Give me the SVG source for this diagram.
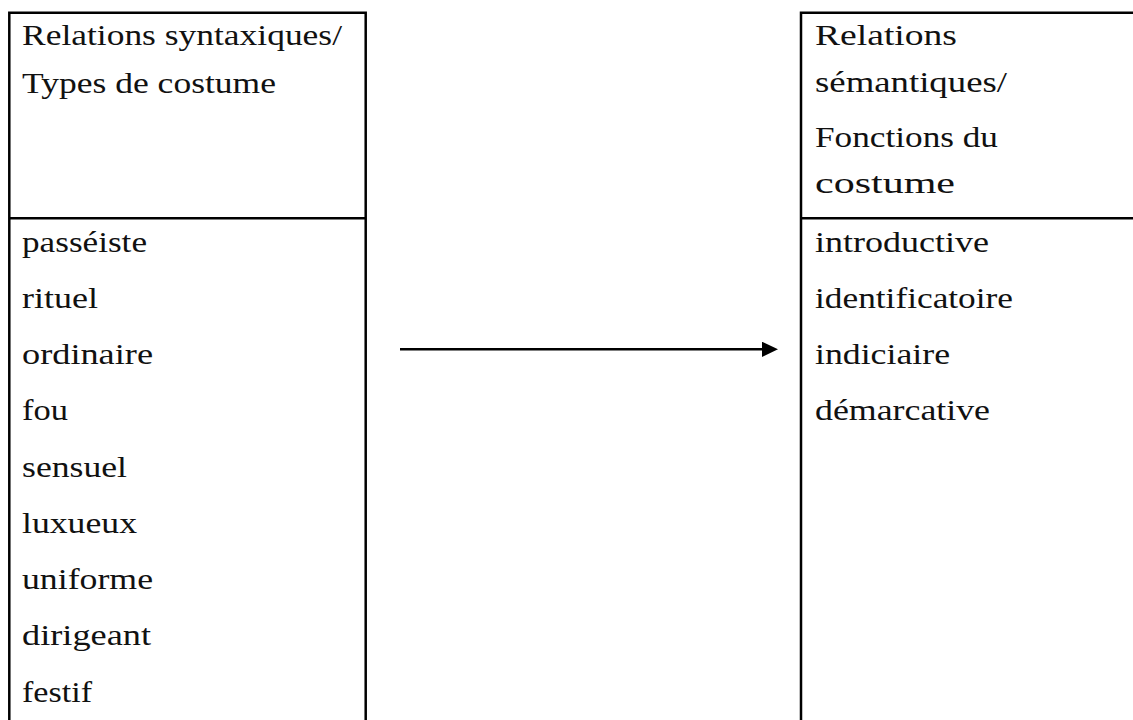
<svg xmlns="http://www.w3.org/2000/svg" width="1133" height="720" viewBox="0 0 1133 720">
<style>
  .frame { fill: none; stroke: #000; stroke-width: 2.5; }
  .t { font-family: "Liberation Serif", "Times New Roman", serif; font-size: 30px; fill: #111; }
  .conn { stroke: #000; stroke-width: 2.5; fill: none; }
</style>
<defs>
  <marker id="arrow" markerUnits="userSpaceOnUse" markerWidth="18" markerHeight="18" refX="2" refY="7.6" orient="auto">
    <path d="M0,0 L16,7.6 L0,15.2 Z" fill="#000"/>
  </marker>
</defs>
<rect width="1133" height="720" fill="#fff"/>

<g id="node-syntaxiques">
  <path class="frame" d="M9.3,722 V12.8 H365.7 V722"/>
  <line class="frame" x1="9.3" y1="218.3" x2="365.7" y2="218.3"/>
  <text class="t" x="22" y="45" textLength="320" lengthAdjust="spacingAndGlyphs">Relations syntaxiques/</text>
  <text class="t" x="22" y="93.3" textLength="254" lengthAdjust="spacingAndGlyphs">Types de costume</text>
  <text class="t" x="22" y="251.5" textLength="125" lengthAdjust="spacingAndGlyphs">passéiste</text>
  <text class="t" x="22" y="307.75" textLength="76" lengthAdjust="spacingAndGlyphs">rituel</text>
  <text class="t" x="22" y="364" textLength="131" lengthAdjust="spacingAndGlyphs">ordinaire</text>
  <text class="t" x="22" y="420.25" textLength="46" lengthAdjust="spacingAndGlyphs">fou</text>
  <text class="t" x="22" y="476.5" textLength="105" lengthAdjust="spacingAndGlyphs">sensuel</text>
  <text class="t" x="22" y="532.75" textLength="115" lengthAdjust="spacingAndGlyphs">luxueux</text>
  <text class="t" x="22" y="589" textLength="131" lengthAdjust="spacingAndGlyphs">uniforme</text>
  <text class="t" x="22" y="645.25" textLength="129" lengthAdjust="spacingAndGlyphs">dirigeant</text>
  <text class="t" x="22" y="701.5" textLength="70" lengthAdjust="spacingAndGlyphs">festif</text>
</g>

<g id="node-semantiques">
  <path class="frame" d="M801,722 V12.8 H1136"/>
  <line class="frame" x1="801" y1="218.3" x2="1136" y2="218.3"/>
  <text class="t" x="815" y="45" textLength="142" lengthAdjust="spacingAndGlyphs">Relations</text>
  <text class="t" x="815" y="92" textLength="192" lengthAdjust="spacingAndGlyphs">sémantiques/</text>
  <text class="t" x="815" y="146.7" textLength="183" lengthAdjust="spacingAndGlyphs">Fonctions du</text>
  <text class="t" x="815" y="193.3" textLength="140" lengthAdjust="spacingAndGlyphs">costume</text>
  <text class="t" x="815" y="251.5" textLength="174" lengthAdjust="spacingAndGlyphs">introductive</text>
  <text class="t" x="815" y="307.75" textLength="198" lengthAdjust="spacingAndGlyphs">identificatoire</text>
  <text class="t" x="815" y="364" textLength="135" lengthAdjust="spacingAndGlyphs">indiciaire</text>
  <text class="t" x="815" y="420.25" textLength="175" lengthAdjust="spacingAndGlyphs">démarcative</text>
</g>

<g id="connectors">
  <line class="conn" x1="400" y1="349.3" x2="764" y2="349.3" marker-end="url(#arrow)"/>
</g>
</svg>
